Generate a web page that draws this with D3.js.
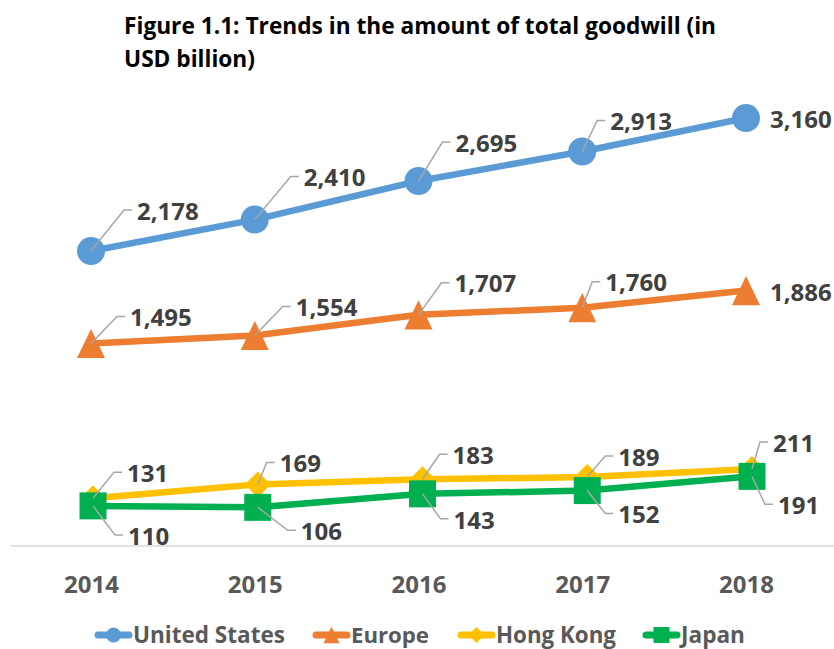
<!DOCTYPE html>
<html lang="en">
<head>
<meta charset="UTF-8">
<title>Trends in the amount of total goodwill</title>
<script src="https://d3js.org/d3.v7.min.js"></script>
<style>
  body { margin: 0; background: #fff; }
  svg text { font-family: "Open Sans", sans-serif; font-weight: bold; }
</style>
</head>
<body>
<svg id="chart" width="834" height="649"></svg>
<script>
// ---- data (USD billion) ----
var years = ["2014", "2015", "2016", "2017", "2018"];
var usValues = [2178, 2410, 2695, 2913, 3160];
var europeValues = [1495, 1554, 1707, 1760, 1886];
var hongKongValues = [131, 169, 183, 189, 211];
var japanValues = [110, 106, 143, 152, 191];
var seriesNames = ["United States", "Europe", "Hong Kong", "Japan"];
var titleLines = ["Figure 1.1: Trends in the amount of total goodwill (in", "USD billion)"];

// ---- label placement: [dx to text start, dy to text middle, leader?] ----
var usLabelPos = [[46, -40, 1], [49, -42, 1], [37, -38, 1], [28, -30, 1], [24, 1, 0]];
var europeLabelPos = [[39, -26, 1], [41, -28, 1], [36, -31, 1], [23, -25, 1], [24, 2, 0]];
var hongKongLabelPos = [[34, -25, 1], [22, -21, 1], [30, -24, 1], [31, -20, 1], [21, -26, 1]];
var japanLabelPos = [[35, 30, 1], [43, 24, 1], [31, 26, 1], [31, 24, 1], [26, 29, 1]];

var svg = d3.select("#chart");

// primary axis for US / Europe, secondary for Hong Kong / Japan
var x = d3.scalePoint().domain(years).range([91, 746]);
var x2 = d3.scalePoint().domain(years).range([93, 752]);
var y = d3.scaleLinear().domain([0, 3500]).range([546, 72]);
var y2 = d3.scaleLinear().domain([0, 1300]).range([546, 72]);

var fmt = d3.format(",");

// marker shapes (centred at 0,0)
function shape(type, s) {
    if (type == "circle") {
        return "M" + s + ",0A" + s + "," + s + " 0 1,1 " + (-s) + ",0A" + s + "," + s + " 0 1,1 " + s + ",0Z";
    }
    if (type == "triangle") {
        return "M0," + (-s * 1.04) + "L" + s + "," + (s * 1.04) + "L" + (-s) + "," + (s * 1.04) + "Z";
    }
    if (type == "diamond") {
        return "M0," + (-s) + "L" + s + ",0L0," + s + "L" + (-s) + ",0Z";
    }
    return "M" + (-s) + "," + (-s) + "H" + s + "V" + s + "H" + (-s) + "Z";
}

var series = [
    {name: seriesNames[0], values: usValues, labels: usLabelPos, color: "#5B9BD5", marker: "circle", size: 14, xs: x, ys: y},
    {name: seriesNames[1], values: europeValues, labels: europeLabelPos, color: "#ED7D31", marker: "triangle", size: 14, xs: x, ys: y},
    {name: seriesNames[2], values: hongKongValues, labels: hongKongLabelPos, color: "#FFC000", marker: "diamond", size: 13, xs: x2, ys: y2},
    {name: seriesNames[3], values: japanValues, labels: japanLabelPos, color: "#00B050", marker: "square", size: 13.5, xs: x2, ys: y2}
];

// baseline
svg.append("line")
    .attr("x1", 10).attr("x2", 834)
    .attr("y1", 546).attr("y2", 546)
    .attr("stroke", "#d9d9d9")
    .attr("stroke-width", 1.5);

// category axis
var xAxis = svg.append("g")
    .attr("transform", "translate(0,546)")
    .call(d3.axisBottom(x).tickSize(0).tickPadding(30));
xAxis.select(".domain").remove();
xAxis.selectAll("text")
    .style("font-family", "'Open Sans', sans-serif")
    .style("font-weight", "bold")
    .attr("font-size", 24)
    .attr("fill", "#595959");

// lines and markers
series.forEach(function(s) {
    var pts = s.values.map(function(v, i) { return {x: s.xs(years[i]), y: s.ys(v), v: v}; });
    var line = d3.line().x(function(d) { return d.x; }).y(function(d) { return d.y; });
    svg.append("path")
        .attr("d", line(pts))
        .attr("fill", "none")
        .attr("stroke", s.color)
        .attr("stroke-width", 6.5)
        .attr("stroke-linejoin", "round");
    svg.selectAll(null)
        .data(pts)
        .enter()
        .append("path")
        .attr("transform", function(d) { return "translate(" + d.x + "," + d.y + ")"; })
        .attr("d", shape(s.marker, s.size))
        .attr("fill", s.color);
    s.pts = pts;
});

// data labels with leader lines
series.forEach(function(s) {
    s.pts.forEach(function(d, i) {
        var p = s.labels[i];
        var lx = d.x + p[0], ly = d.y + p[1];
        if (p[2]) {
            svg.append("path")
                .attr("d", "M" + d.x + "," + d.y + "L" + (lx - 13) + "," + (ly - 1) + "H" + (lx - 5))
                .attr("fill", "none")
                .attr("stroke", "#a6a6a6")
                .attr("stroke-width", 1.5);
        }
        svg.append("text")
            .attr("x", lx)
            .attr("y", ly)
            .attr("dy", "0.36em")
            .attr("font-size", 24)
            .attr("fill", "#404040")
            .text(fmt(d.v));
    });
});

// fit a text element to a target width
function fitWidth(sel, w) {
    var len = sel.node().getComputedTextLength();
    var fs = parseFloat(sel.attr("font-size"));
    sel.attr("font-size", (fs * w / len).toFixed(2));
    return fs * w / len;
}

// title
var t1 = svg.append("text").attr("x", 124).attr("y", 34).attr("font-size", 20).attr("fill", "#000").text(titleLines[0]);
var tfs = fitWidth(t1, 592);
svg.append("text").attr("x", 124).attr("y", 67).attr("font-size", tfs).attr("fill", "#000").text(titleLines[1]);

// legend
var legendX = [95, 313, 458, 643];
var legendTextW = [152, 78, 120, 64];
series.forEach(function(s, i) {
    var g = svg.append("g").attr("transform", "translate(" + legendX[i] + ",635)");
    g.append("line")
        .attr("x1", 3).attr("x2", 34)
        .attr("stroke", s.color)
        .attr("stroke-width", 7)
        .attr("stroke-linecap", "round");
    g.append("path")
        .attr("transform", "translate(18.5,0)")
        .attr("d", shape(s.marker, s.marker == "circle" ? 7.5 : 8))
        .attr("fill", s.color);
    var t = g.append("text")
        .attr("x", 38)
        .attr("y", 0)
        .attr("dy", "0.36em")
        .attr("font-size", 22)
        .attr("fill", "#595959")
        .text(s.name);
    fitWidth(t, legendTextW[i]);
});
</script>
</body>
</html>
